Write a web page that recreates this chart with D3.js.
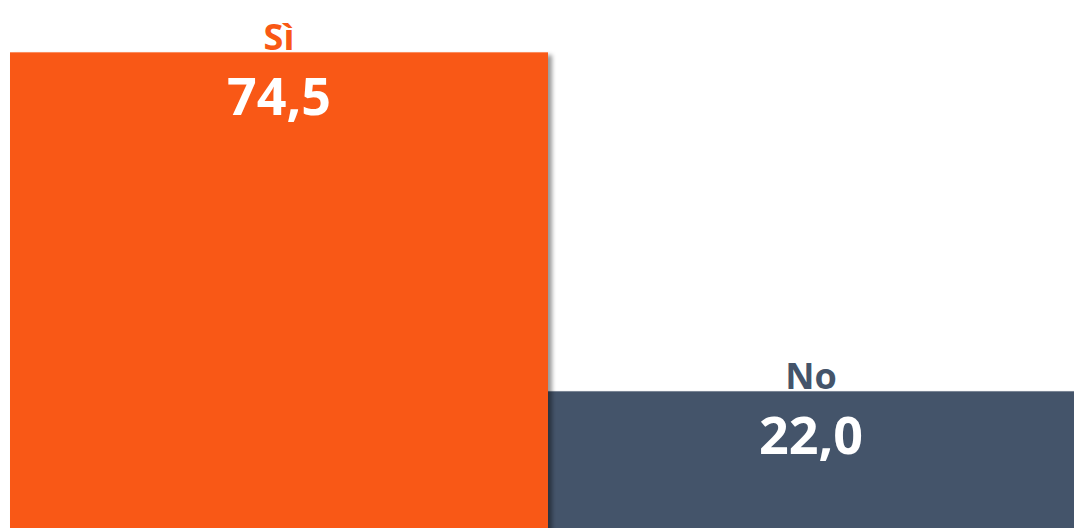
<!DOCTYPE html>
<html><head><meta charset="utf-8">
<script src="https://cdn.jsdelivr.net/npm/d3@7"></script>
<style>html,body{margin:0;padding:0;background:#fff;overflow:hidden}</style>
</head><body>
<svg id="c" width="1074" height="528"></svg>
<script>
const categories = ["Sì", "No"];
const values = [74.5, 22.0];
const colors = ["#F95814", "#44546A"];

const svg = d3.select("#c");
const defs = svg.append("defs");
const f = defs.append("filter").attr("id","sh").attr("x","-5%").attr("y","-5%").attr("width","115%").attr("height","115%");
f.append("feDropShadow").attr("dx",4).attr("dy",3).attr("stdDeviation",2).attr("flood-color","#000").attr("flood-opacity",0.4);

const x = d3.scaleBand().domain(categories).range([10, 1086]).padding(0);
const y = d3.scaleLinear().domain([0, 82.56]).range([533, 0]);
const fmt = v => d3.format(".1f")(v).replace(".", ",");

const g = svg.append("g");
const order = [1, 0];
order.forEach(i => {
  const c = categories[i], v = values[i];
  g.append("rect")
    .attr("x", x(c)).attr("y", y(v))
    .attr("width", x.bandwidth()).attr("height", y(0) - y(v))
    .attr("fill", colors[i])
    .attr("filter", i === 0 ? "url(#sh)" : null);
  g.append("line")
    .attr("x1", x(c)).attr("x2", x(c) + x.bandwidth())
    .attr("y1", y(v) + 0.5).attr("y2", y(v) + 0.5)
    .attr("stroke", "#fff").attr("stroke-opacity", 0.3);
});
categories.forEach((c, i) => {
  const v = values[i];
  const cx = x(c) + x.bandwidth() / 2 - (i === 1 ? 6 : 0);
  g.append("text").attr("x", cx).attr("y", y(v) - 2)
    .attr("text-anchor", "middle")
    .attr("font-family", "'Open Sans', sans-serif").attr("font-weight", 700)
    .attr("font-size", 36).attr("fill", colors[i]).text(c);
  g.append("text").attr("x", cx).attr("y", y(v) + 63)
    .attr("text-anchor", "middle")
    .attr("font-family", "'Open Sans', sans-serif").attr("font-weight", 700)
    .attr("font-size", 52).attr("fill", "#fff").text(fmt(v));
});
</script>
</body></html>
